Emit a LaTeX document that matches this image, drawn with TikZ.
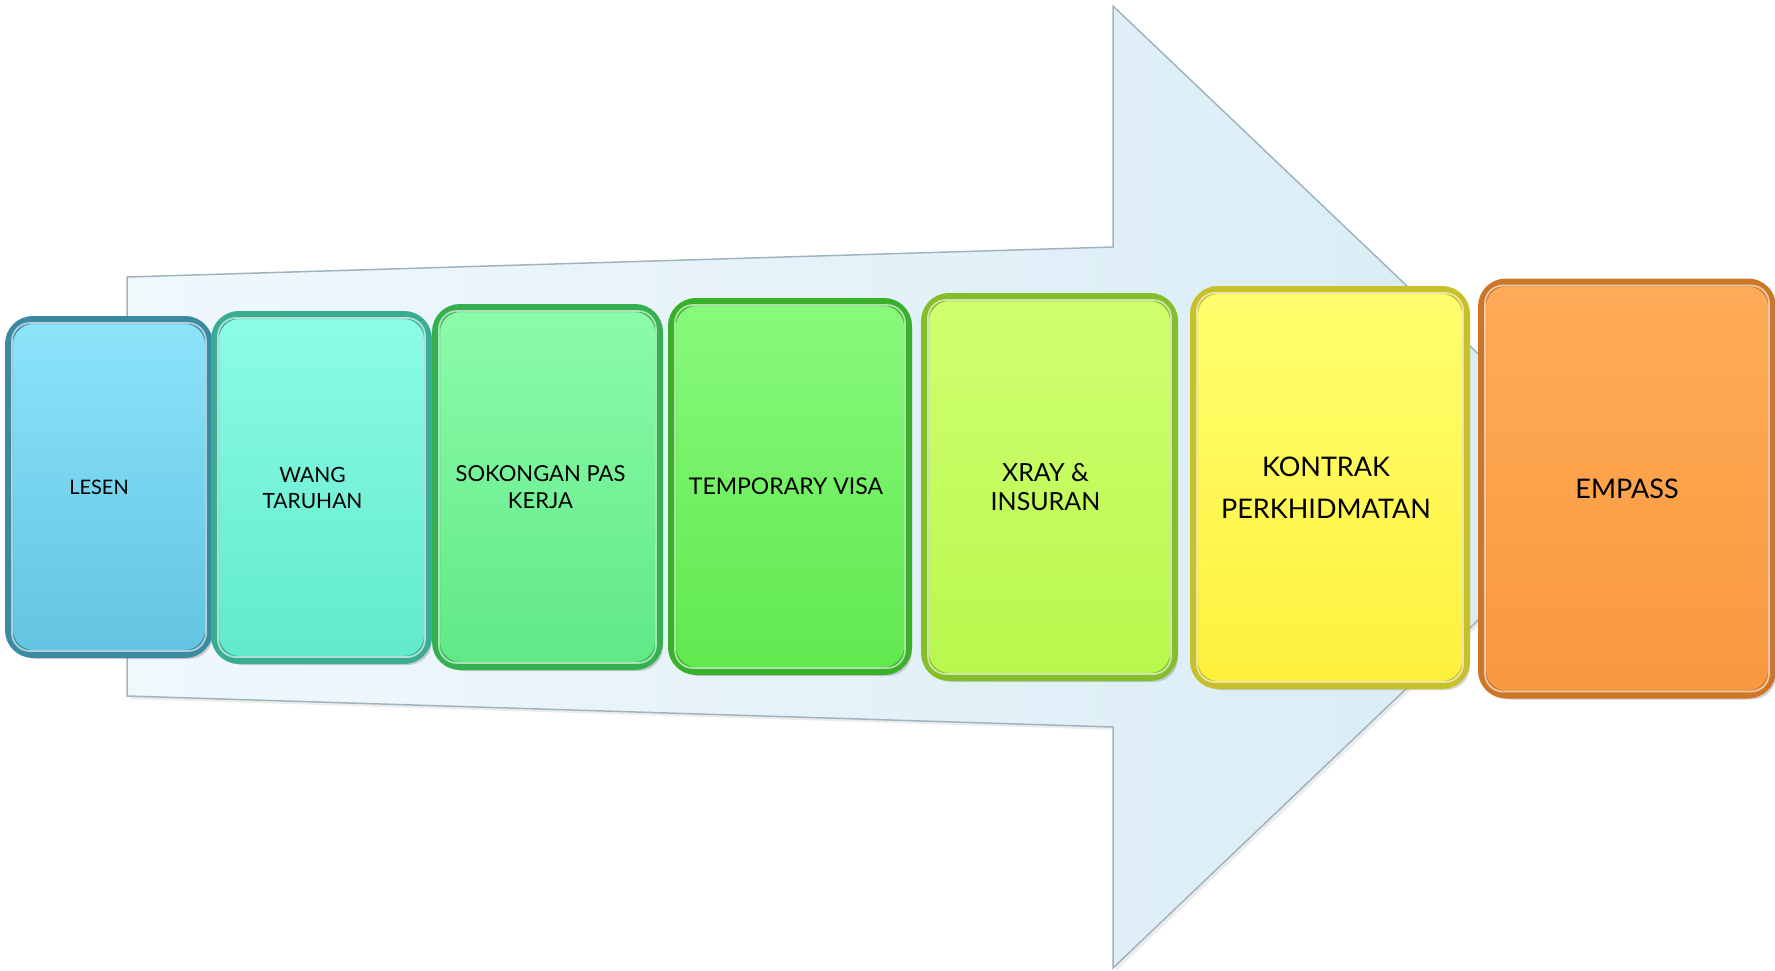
\documentclass[tikz,border=0pt]{standalone}
\usepackage{fontspec}
\setmainfont{Lato}
\usetikzlibrary{shadows}
\definecolor{arrowL}{RGB}{240,248,252}
\definecolor{arrowR}{RGB}{216,235,245}
\definecolor{arrowE}{RGB}{160,180,192}
\definecolor{c1t}{RGB}{140,228,250}\definecolor{c1b}{RGB}{98,196,226}\definecolor{c1d}{RGB}{58,138,162}
\definecolor{c2t}{RGB}{140,252,230}\definecolor{c2b}{RGB}{96,234,202}\definecolor{c2d}{RGB}{58,172,148}
\definecolor{c3t}{RGB}{140,252,170}\definecolor{c3b}{RGB}{96,232,134}\definecolor{c3d}{RGB}{52,176,80}
\definecolor{c4t}{RGB}{136,250,124}\definecolor{c4b}{RGB}{96,232,78}\definecolor{c4d}{RGB}{56,176,42}
\definecolor{c5t}{RGB}{208,255,112}\definecolor{c5b}{RGB}{184,248,76}\definecolor{c5d}{RGB}{132,190,42}
\definecolor{c6t}{RGB}{255,255,110}\definecolor{c6b}{RGB}{255,240,60}\definecolor{c6d}{RGB}{200,192,40}
\definecolor{c7t}{RGB}{255,172,88}\definecolor{c7b}{RGB}{248,152,62}\definecolor{c7d}{RGB}{206,118,40}
\tikzset{
  card/.style n args={3}{rounded corners=24pt, draw=#3, line width=8pt,
    top color=#1, bottom color=#2, inner sep=0pt, align=center, text=black,
    drop shadow={shadow xshift=4pt, shadow yshift=-5pt, opacity=0.35}},
  bevel/.style={draw=white, opacity=0.6, line width=1.8pt, rounded corners=18pt},
  arrowbody/.style={draw=arrowE, line width=1.5pt, left color=arrowL, right color=arrowR,
    drop shadow={shadow xshift=3pt, shadow yshift=-3pt, opacity=0.15}}
}
\begin{document}
\begin{tikzpicture}[x=1pt,y=-1pt]
\useasboundingbox (0,0) rectangle (1775,970);
% big arrow
\draw[arrowbody] (127,277) -- (1113,247) -- (1113,6) -- (1618,487) -- (1113,968) -- (1113,727) -- (127,696) -- cycle;
% cards
\node[card={c1t}{c1b}{c1d}, minimum width=200pt, minimum height=334pt] (lesen) at (109,487) {};
\node[card={c2t}{c2b}{c2d}, minimum width=213pt, minimum height=345pt] (wang) at (321.5,487.5) {};
\node[card={c3t}{c3b}{c3d}, minimum width=223pt, minimum height=358pt] (sokongan) at (547.5,487) {};
\node[card={c4t}{c4b}{c4d}, minimum width=236pt, minimum height=369pt] (visa) at (790,486.5) {};
\node[card={c5t}{c5b}{c5d}, minimum width=249pt, minimum height=380pt] (xray) at (1049.5,487) {};
\node[card={c6t}{c6b}{c6d}, minimum width=272pt, minimum height=395pt] (kontrak) at (1330,487.5) {};
\node[card={c7t}{c7b}{c7d}, minimum width=290pt, minimum height=412pt] (empass) at (1627,488.5) {};
\foreach \n in {lesen,wang,sokongan,visa,xray,kontrak,empass}
  \draw[bevel] ([shift={(7pt,-7pt)}]\n.north west) rectangle ([shift={(-7pt,7pt)}]\n.south east);
% labels
\node[align=center, font=\fontsize{20}{24}\selectfont] (tlesen) at ([xshift=-10pt]lesen.center) {LESEN};
\node[align=center, font=\fontsize{21}{26}\selectfont] (twang) at ([xshift=-9pt]wang.center) {WANG\\TARUHAN};
\node[align=center, font=\fontsize{22}{27}\selectfont] (tsokongan) at ([xshift=-7pt]sokongan.center) {SOKONGAN PAS\\KERJA};
\node[align=center, font=\fontsize{23}{28}\selectfont] (tvisa) at ([xshift=-4pt]visa.center) {TEMPORARY VISA};
\node[align=center, font=\fontsize{25}{29}\selectfont] (txray) at ([xshift=-4pt]xray.center) {XRAY \&\\INSURAN};
\node[align=center, font=\fontsize{27}{42}\selectfont] (tkontrak) at ([xshift=-4pt]kontrak.center) {KONTRAK\\PERKHIDMATAN};
\node[align=center, font=\fontsize{27}{32}\selectfont] (tempass) at (empass.center) {EMPASS};
\end{tikzpicture}
\end{document}
